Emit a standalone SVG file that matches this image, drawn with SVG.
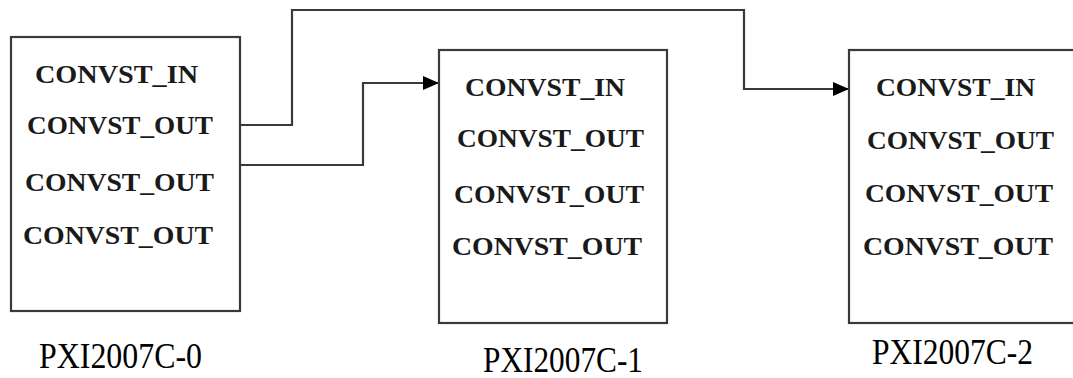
<svg xmlns="http://www.w3.org/2000/svg" width="1073" height="378" viewBox="0 0 1073 378">
<style>
.box{fill:#fff;stroke:#3a3a3a;stroke-width:2.2}
.pin{font-family:"Liberation Serif","Times New Roman",serif;font-weight:bold;font-size:26px;fill:#1a1a1a}
.lbl{font-family:"Liberation Serif","Times New Roman",serif;font-size:35px;fill:#000}
.wire{fill:none;stroke:#3a3a3a;stroke-width:2.2}
</style>
<defs>
<marker id="arr" viewBox="0 0 16 14" refX="16" refY="7" markerWidth="16" markerHeight="14" markerUnits="userSpaceOnUse" orient="auto">
<path d="M0,0 L16,7 L0,14 Z" fill="#000"/>
</marker>
</defs>
<rect width="1073" height="378" fill="#fff"/>
<g id="connectors">
<path class="wire" d="M240,125 H292 V10 H744 V89 H849" marker-end="url(#arr)"/>
<path class="wire" d="M240,165 H363 V83 H439" marker-end="url(#arr)"/>
</g>
<g id="node0">
<rect class="box" x="11" y="37" width="229" height="274"/>
<text class="pin" x="35" y="83" textLength="163" lengthAdjust="spacingAndGlyphs">CONVST_IN</text>
<text class="pin" x="27" y="134" textLength="186" lengthAdjust="spacingAndGlyphs">CONVST_OUT</text>
<text class="pin" x="25" y="191" textLength="189" lengthAdjust="spacingAndGlyphs">CONVST_OUT</text>
<text class="pin" x="23" y="244" textLength="190" lengthAdjust="spacingAndGlyphs">CONVST_OUT</text>
<text class="lbl" x="39" y="368" textLength="163" lengthAdjust="spacingAndGlyphs">PXI2007C-0</text>
</g>
<g id="node1">
<rect class="box" x="439" y="50" width="228" height="273"/>
<text class="pin" x="465" y="96" textLength="160" lengthAdjust="spacingAndGlyphs">CONVST_IN</text>
<text class="pin" x="457" y="147" textLength="187" lengthAdjust="spacingAndGlyphs">CONVST_OUT</text>
<text class="pin" x="454" y="203" textLength="190" lengthAdjust="spacingAndGlyphs">CONVST_OUT</text>
<text class="pin" x="452" y="255" textLength="190" lengthAdjust="spacingAndGlyphs">CONVST_OUT</text>
<text class="lbl" x="483" y="372" textLength="160" lengthAdjust="spacingAndGlyphs">PXI2007C-1</text>
</g>
<g id="node2">
<rect class="box" x="849" y="50" width="240" height="273"/>
<text class="pin" x="876" y="96" textLength="159" lengthAdjust="spacingAndGlyphs">CONVST_IN</text>
<text class="pin" x="867" y="149" textLength="187" lengthAdjust="spacingAndGlyphs">CONVST_OUT</text>
<text class="pin" x="865" y="202" textLength="188" lengthAdjust="spacingAndGlyphs">CONVST_OUT</text>
<text class="pin" x="863" y="255" textLength="190" lengthAdjust="spacingAndGlyphs">CONVST_OUT</text>
<text class="lbl" x="872" y="364" textLength="161" lengthAdjust="spacingAndGlyphs">PXI2007C-2</text>
</g>
</svg>
